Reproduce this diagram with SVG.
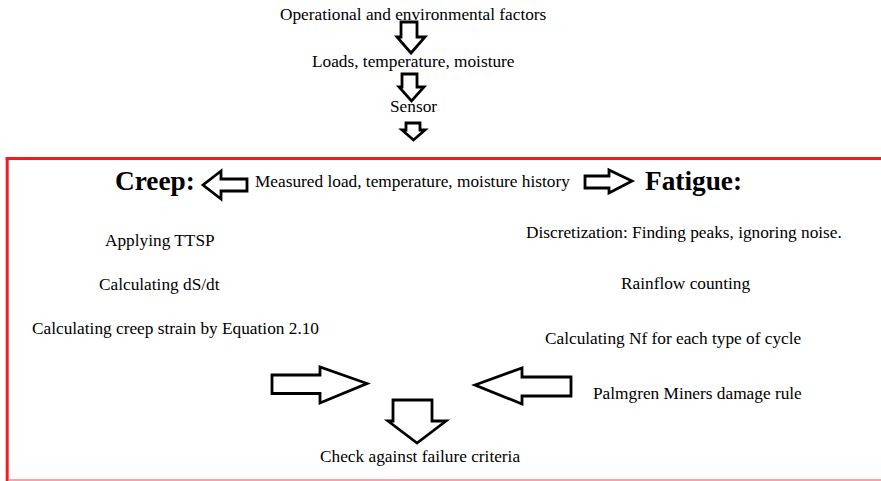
<svg xmlns="http://www.w3.org/2000/svg" width="881" height="481" viewBox="0 0 881 481">
<style>
  .t { font-family: "Liberation Serif", "Times New Roman", serif; font-size: 17.3px; fill: #000; }
  .h { font-family: "Liberation Serif", "Times New Roman", serif; font-size: 27.3px; font-weight: bold; fill: #000; }
  .arr { fill: #fff; stroke: #000; stroke-width: 2.8; stroke-linejoin: miter; }
</style>
<rect x="0" y="0" width="881" height="481" fill="#fff"/>
<g id="frame">
  <line x1="5.7" y1="158.5" x2="881" y2="158.5" stroke="#ee1c25" stroke-width="3"/>
  <line x1="7.2" y1="157" x2="7.2" y2="481" stroke="#ee1c25" stroke-width="3"/>
  <line x1="8.7" y1="480" x2="881" y2="480" stroke="#f7a1ab" stroke-width="2"/>
</g>
<g id="connectors">
  <polygon class="arr" points="401,22 417,22 417,37 425,37 411,53 397,37 401,37"/>
  <polygon class="arr" points="402,74 417,74 417,87 424,87 411.5,101 399,87 402,87"/>
  <polygon class="arr" points="406,123 420,123 420,130 425,130 413.5,140 402,130 406,130"/>
  <polygon class="arr" points="247,179 221,179 221,171 203,185 221,199 221,191 247,191"/>
  <polygon class="arr" points="585,176 609,176 609,170 632,181 609,193 609,188 585,188"/>
  <polygon class="arr" points="272,375 320,375 320,367 367,383.5 320,403 320,393.5 272,393.5"/>
  <polygon class="arr" points="571,377 522,377 522,368 475,385 522,404 522,396 571,396"/>
  <polygon class="arr" points="393,400 432,400 432,421 446,421 417,443 388,421 393,421"/>
</g>
<g id="n-factors"><text class="t" x="280" y="20">Operational and environmental factors</text></g>
<g id="n-loads"><text class="t" x="312" y="67">Loads, temperature, moisture</text></g>
<g id="n-sensor"><text class="t" x="390" y="112">Sensor</text></g>
<g id="n-creep"><text class="h" x="115" y="190">Creep:</text></g>
<g id="n-measured"><text class="t" x="255" y="187">Measured load, temperature, moisture history</text></g>
<g id="n-fatigue"><text class="h" x="645" y="190">Fatigue:</text></g>
<g id="n-ttsp"><text class="t" x="105" y="246">Applying TTSP</text></g>
<g id="n-dsdt"><text class="t" x="99" y="290">Calculating dS/dt</text></g>
<g id="n-strain"><text class="t" x="32" y="334">Calculating creep strain by Equation 2.10</text></g>
<g id="n-discret"><text class="t" x="526" y="238">Discretization: Finding peaks, ignoring noise.</text></g>
<g id="n-rainflow"><text class="t" x="621" y="289">Rainflow counting</text></g>
<g id="n-nf"><text class="t" x="545" y="344">Calculating Nf for each type of cycle</text></g>
<g id="n-miner"><text class="t" x="593" y="399">Palmgren Miners damage rule</text></g>
<g id="n-check"><text class="t" x="320" y="462">Check against failure criteria</text></g>
</svg>
